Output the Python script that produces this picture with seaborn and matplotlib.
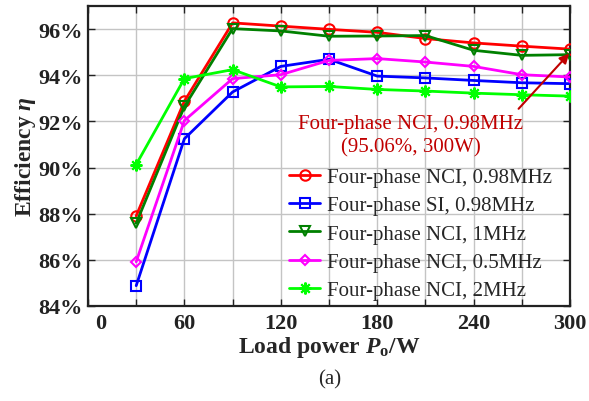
import matplotlib
matplotlib.use("Agg")
import matplotlib.pyplot as plt
import matplotlib.transforms as mtransforms
import seaborn as sns
import pandas as pd

# ---- data ----
power = [30, 60, 90, 120, 150, 180, 210, 240, 270, 300]
eff_nci_098 = [87.9, 92.88, 96.28, 96.14, 96.0, 95.87, 95.6, 95.41, 95.27, 95.14]
eff_si_098 = [84.87, 91.25, 93.28, 94.39, 94.7, 93.97, 93.89, 93.78, 93.68, 93.64]
eff_nci_1 = [87.58, 92.65, 96.03, 95.93, 95.7, 95.71, 95.73, 95.09, 94.87, 94.9]
eff_nci_05 = [85.91, 92.04, 93.86, 94.03, 94.65, 94.73, 94.58, 94.39, 94.03, 93.93]
eff_nci_2 = [90.13, 93.86, 94.25, 93.5, 93.52, 93.39, 93.32, 93.23, 93.16, 93.1]
labels = ["Four-phase NCI, 0.98MHz", "Four-phase SI, 0.98MHz",
          "Four-phase NCI, 1MHz", "Four-phase NCI, 0.5MHz", "Four-phase NCI, 2MHz"]
series = [eff_nci_098, eff_si_098, eff_nci_1, eff_nci_05, eff_nci_2]
colors = ["#ff0000", "#0000ff", "#008000", "#ff00ff", "#00ff00"]
markers = ["o", "s", "v", "D", (8, 2, 0)]
msizes = [7.5, 7, 7.5, 5.5, 8.5]
xticks = [0, 30, 60, 90, 120, 150, 180, 210, 240, 270, 300]
xticklabels = ["0", "", "60", "", "120", "", "180", "", "240", "", "300"]
yticks = [84, 86, 88, 90, 92, 94, 96]
yticklabels = ["84%", "86%", "88%", "90%", "92%", "94%", "96%"]
annot_text = "Four-phase NCI, 0.98MHz\n(95.06%, 300W)"
annot_point = (299.5, 94.95)

sns.set_style("ticks")
plt.rcParams["font.family"] = ["Liberation Serif", "DejaVu Serif"]
plt.rcParams["mathtext.fontset"] = "custom"
plt.rcParams["mathtext.rm"] = "Liberation Serif:bold"
plt.rcParams["mathtext.it"] = "Liberation Serif:italic:bold"
plt.rcParams["mathtext.bf"] = "Liberation Serif:bold"

fig = plt.figure(figsize=(5.89, 4.02), dpi=100)
ax = fig.add_axes([88/589, 1-306.7/402, (570-88)/589, (306.7-7.3)/402])

for vals, lab, c, m, ms in zip(series, labels, colors, markers, msizes):
    df = pd.DataFrame({"P": power, "eta": vals})
    sns.lineplot(data=df, x="P", y="eta", ax=ax, color=c, linewidth=2.0,
                 marker=m, markersize=ms, markerfacecolor="none",
                 markeredgecolor=c, markeredgewidth=1.5, label=lab,
                 zorder=3)

ax.set_xlim(0, 300)
ax.set_ylim(84, 97)
ax.set_xticks(xticks)
ax.set_xticklabels(xticklabels)
ax.set_yticks(yticks)
ax.set_yticklabels(yticklabels)
ax.grid(True, color="#c4c4c4", linewidth=1.0, zorder=0)
ax.set_axisbelow(True)
ax.tick_params(direction="in", length=5, width=1, top=True, right=True,
               labelsize=16, colors="#222222", labelcolor="#222222")
ax.tick_params(axis="x", pad=5)
ax.tick_params(axis="y", pad=4)
for lbl in ax.get_xticklabels() + ax.get_yticklabels():
    lbl.set_fontweight("bold")
# shift "0" label to the right
zero_lbl = ax.get_xticklabels()[0]
zero_lbl.set_transform(zero_lbl.get_transform() +
                       mtransforms.ScaledTranslation(13/100, 0, fig.dpi_scale_trans))
for s in ax.spines.values():
    s.set_linewidth(1.6)
    s.set_color("#222222")

ax.set_xlabel(r"Load power $P_\mathrm{o}$/W", fontsize=17, fontweight="bold", labelpad=1)
ax.set_ylabel(r"Efficiency $\eta$", fontsize=17, fontweight="bold", labelpad=0)

ax.legend(loc="lower left", bbox_to_anchor=(0.40, -0.01), frameon=False,
          fontsize=15, handlelength=1.5, handletextpad=0.3, labelspacing=0.42,
          borderaxespad=0.0)

ax.text(201, 91.4, annot_text, ha="center", va="center", color="#c00000",
        fontsize=15, linespacing=1.3)
ax.annotate("", xy=annot_point, xytext=(268, 92.55),
            arrowprops=dict(arrowstyle="-|>", color="#c00000", lw=1.5,
                            mutation_scale=14, shrinkA=0, shrinkB=0), zorder=5)

fig.text(330/589, 1-380/402, "(a)", ha="center", va="center", fontsize=15)

fig.savefig("out.png", dpi=100)
